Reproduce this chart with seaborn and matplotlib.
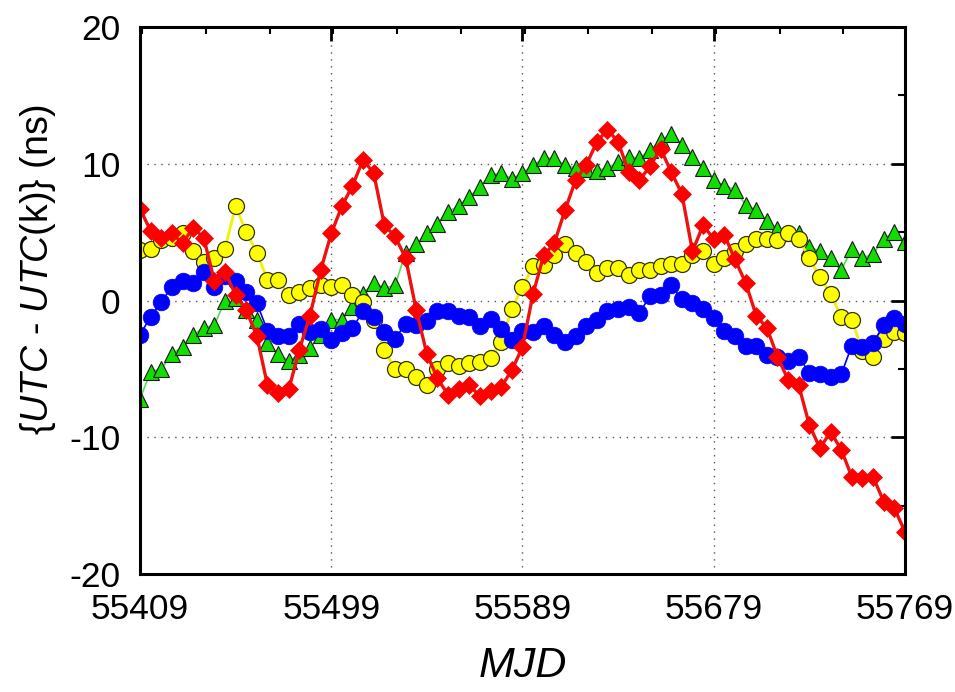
import numpy as np
import pandas as pd
import matplotlib
matplotlib.use("Agg")
import matplotlib.pyplot as plt
import seaborn as sns
from matplotlib.ticker import MultipleLocator, FixedLocator

mjd_start = 55409
step = 5

red = [6.7, 5.1, 4.6, 4.9, 4.2, 5.3, 4.6, 1.4, 2.1, 0.4,
       -0.7, -2.6, -6.2, -6.8, -6.5, -3.6, -1.1, 2.2, 4.9, 6.9,
       8.4, 10.3, 9.3, 5.5, 4.7, 3.1, -0.7, -3.9, -5.7, -6.9,
       -6.5, -6.2, -7.0, -6.6, -6.3, -5.1, -3.4, 0.5, 3.3, 4.2,
       6.6, 8.8, 9.9, 11.6, 12.5, 11.6, 9.4, 8.8, 9.8, 11.1,
       9.4, 7.8, 3.6, 5.5, 4.5, 4.8, 3.0, 1.3, -1.1, -2.0,
       -4.1, -5.8, -6.2, -9.1, -10.8, -9.6, -10.9, -12.9, -13.0, -12.9,
       -14.7, -15.2, -16.9]
green = [-7.2, -5.2, -5.0, -3.9, -3.4, -2.5, -2.0, -1.8, 0.0, 0.2,
         -0.7, -1.4, -3.1, -3.9, -4.4, -4.0, -3.5, -2.5, -1.4, -1.4,
         -0.5, 0.5, 1.3, 0.9, 1.1, 3.5, 4.1, 4.9, 5.6, 6.5,
         6.9, 7.6, 8.3, 9.2, 9.3, 8.9, 9.3, 9.9, 10.4, 10.4,
         9.9, 9.7, 9.6, 9.5, 9.7, 10.1, 10.5, 10.4, 11.0, 11.7,
         12.2, 11.4, 10.5, 9.7, 8.8, 8.4, 8.1, 7.0, 6.6, 5.8,
         5.2, 4.9, 4.9, 3.9, 3.6, 3.1, 2.2, 3.8, 3.1, 3.4,
         4.5, 5.0, 4.3]
blue = [-2.5, -1.2, -0.1, 1.0, 1.4, 1.3, 2.1, 1.0, 1.8, 1.4,
        0.6, -0.2, -2.2, -2.6, -2.6, -1.7, -2.3, -2.1, -2.9, -2.4,
        -2.0, -0.8, -1.2, -2.3, -2.8, -1.7, -1.8, -1.5, -0.8, -0.8,
        -1.1, -1.2, -1.9, -1.35, -2.1, -2.9, -2.2, -2.3, -1.9, -2.5,
        -3.0, -2.6, -1.9, -1.4, -0.8, -0.6, -0.5, -0.9, 0.3, 0.4,
        1.1, 0.1, -0.2, -0.6, -1.3, -2.2, -2.6, -3.3, -3.3, -4.0,
        -4.1, -4.4, -4.1, -5.3, -5.4, -5.6, -5.4, -3.3, -3.4, -3.1,
        -1.8, -1.3, -1.7]
yellow = [3.7, 3.8, 4.4, 4.6, 4.9, 3.6, 2.8, 3.1, 3.8, 6.9,
          5.0, 3.5, 1.5, 1.5, 0.4, 0.6, 0.9, 1.1, 1.0, 1.1,
          0.4, -0.1, -1.4, -3.6, -5.0, -5.0, -5.6, -6.2, -5.0, -4.6,
          -4.8, -4.6, -4.5, -4.2, -3.0, -0.6, 1.0, 2.5, 2.6, 3.3,
          4.1, 3.5, 2.8, 2.0, 2.4, 2.4, 1.9, 2.2, 2.2, 2.5,
          2.7, 2.7, 3.3, 3.6, 2.7, 3.1, 3.6, 4.1, 4.5, 4.5,
          4.4, 4.9, 4.5, 3.1, 1.7, 0.5, -1.2, -1.4, -3.7, -4.1,
          -2.8, -2.3, -2.4]

x_ticks = [55409, 55499, 55589, 55679, 55769]
y_ticks = [-20, -10, 0, 10, 20]

mjd = mjd_start + step * np.arange(len(red))

sns.set_style("white")
plt.rcParams['font.family'] = ['Liberation Sans', 'DejaVu Sans']
plt.rcParams['mathtext.fontset'] = 'custom'
plt.rcParams['mathtext.rm'] = 'Liberation Sans'
plt.rcParams['mathtext.it'] = 'Liberation Sans:italic'
for k in ['text.color', 'axes.labelcolor', 'xtick.color', 'ytick.color',
          'xtick.labelcolor', 'ytick.labelcolor']:
    plt.rcParams[k] = 'black'

fig = plt.figure(figsize=(9.55, 6.92), dpi=100)
ax = fig.add_axes([0.1466, 0.1705, 0.801, 0.7905])

df = pd.DataFrame({"MJD": mjd, "green": green, "yellow": yellow,
                   "blue": blue, "red": red})

sns.lineplot(data=df, x="MJD", y="green", ax=ax, color="#55dd55", lw=1.2,
             marker="^", ms=11.5, markerfacecolor="#11dd00",
             markeredgecolor="#1a1a1a", markeredgewidth=0.8, zorder=3)
sns.lineplot(data=df, x="MJD", y="yellow", ax=ax, color="#f2f200", lw=2.0,
             marker="o", ms=11.5, markerfacecolor="#ffff00",
             markeredgecolor="#333300", markeredgewidth=0.9, zorder=4)
sns.lineplot(data=df, x="MJD", y="blue", ax=ax, color="#0000ee", lw=1.2,
             marker="o", ms=12, markerfacecolor="#0000ff",
             markeredgecolor="#0000ff", markeredgewidth=0.5, zorder=5)
sns.lineplot(data=df, x="MJD", y="red", ax=ax, color="#ee1111", lw=2.4,
             marker="D", ms=9.5, markerfacecolor="#ff0000",
             markeredgecolor="#ff0000", markeredgewidth=0.5, zorder=6)

ax.set_xlim(x_ticks[0], x_ticks[-1])
ax.set_ylim(y_ticks[0], y_ticks[-1])
ax.xaxis.set_major_locator(FixedLocator(x_ticks))
ax.xaxis.set_minor_locator(MultipleLocator(30))
ax.yaxis.set_major_locator(FixedLocator(y_ticks))
ax.yaxis.set_minor_locator(MultipleLocator(5))
ax.set_xticklabels([str(t) for t in x_ticks])
ax.set_yticklabels([str(t) for t in y_ticks])

ax.grid(True, which='major', linestyle=(0, (1, 4)), color='#555555', lw=1.0)
ax.set_axisbelow(True)

for s in ax.spines.values():
    s.set_color('black')
    s.set_linewidth(2.2)
    s.set_zorder(10)

ax.tick_params(which='major', direction='in', length=10, width=2,
               top=True, right=True, labelsize=25.5, color='black',
               labelcolor='black')
ax.tick_params(which='minor', direction='in', length=5, width=1.5,
               top=True, right=True, color='black')
ax.tick_params(axis='x', which='major', pad=14)
ax.tick_params(axis='y', which='major', pad=14)

ax.set_xlabel("MJD", fontsize=31, style='italic', labelpad=14)
ax.set_ylabel(r"{$\mathit{UTC}$ - $\mathit{UTC}$(k)} (ns)", fontsize=27)
ax.yaxis.set_label_coords(-0.107, 0.556)

fig.savefig("out.png", dpi=100)
